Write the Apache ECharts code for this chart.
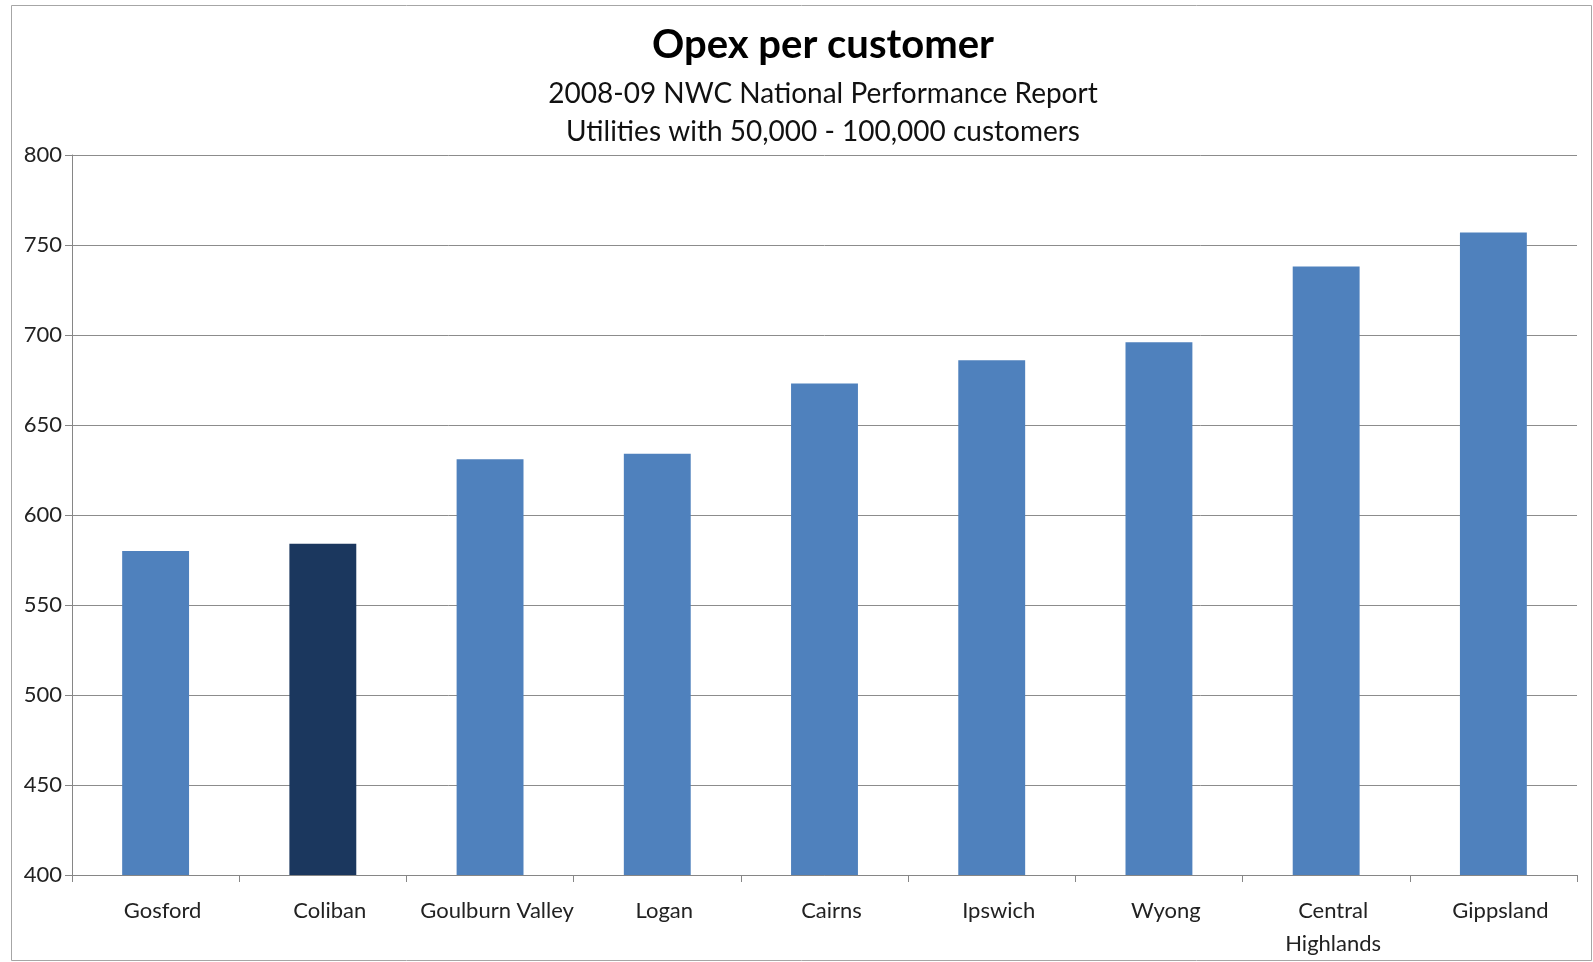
<!DOCTYPE html>
<html><head><meta charset="utf-8">
<script src="https://cdn.jsdelivr.net/npm/echarts@6/dist/echarts.min.js"></script>
<style>html,body{margin:0;padding:0;background:#fff}#c{width:1593px;height:962px}</style>
</head><body><div id="c"></div>
<script>
const categories = ['Gosford','Coliban','Goulburn Valley','Logan','Cairns','Ipswich','Wyong','Central\nHighlands','Gippsland'];
const opexValues = [580, 584, 631, 634, 673, 686, 696, 738, 757];
const highlightCategory = 'Coliban';
const titleText = 'Opex per customer';
const subtitleText = '2008-09 NWC National Performance Report\nUtilities with 50,000 - 100,000 customers';

const FONT = 'Lato, "Open Sans", sans-serif';
const chart = echarts.init(document.getElementById('c'));
chart.setOption({
  backgroundColor: '#fff',
  animation: false,
  graphic: [{type:'rect', shape:{x:11.5,y:5.5,width:1580,height:955}, style:{fill:'none', stroke:'#a6a6a6', lineWidth:1}, z:-1}],
  title: {
    text: titleText,
    subtext: subtitleText,
    left: 818, textAlign: 'center', top: 20,
    textStyle: {fontFamily: FONT, fontSize: 40, fontWeight: 'bold', color: '#000'},
    subtextStyle: {fontFamily: FONT, fontSize: 28, color: '#111', lineHeight: 38},
    itemGap: 10
  },
  grid: {left: 72, right: 16, top: 155, bottom: 87, containLabel: false},
  xAxis: {
    type: 'category', data: categories,
    axisLine: {lineStyle: {color: '#868686', width: 1}},
    axisTick: {show: true, alignWithLabel: false, length: 7, lineStyle: {color: '#868686'}},
    axisLabel: {fontFamily: FONT, fontSize: 22, color: '#222', margin: 19, lineHeight: 33, interval: 0, padding: [0, 0, 0, 14]}
  },
  yAxis: {
    type: 'value', min: 400, max: 800, interval: 50,
    axisLine: {show: true, lineStyle: {color: '#868686'}},
    axisTick: {show: true, length: 7, lineStyle: {color: '#868686'}},
    splitLine: {lineStyle: {color: '#8c8c8c', width: 1}},
    axisLabel: {fontFamily: FONT, fontSize: 22, color: '#222', margin: 10}
  },
  series: [{
    type: 'bar',
    data: opexValues.map((v, i) => ({value: v, itemStyle: {color: categories[i] === highlightCategory ? '#1b375e' : '#4f81bd'}})),
    barWidth: '40%'
  }]
});
</script></body></html>
